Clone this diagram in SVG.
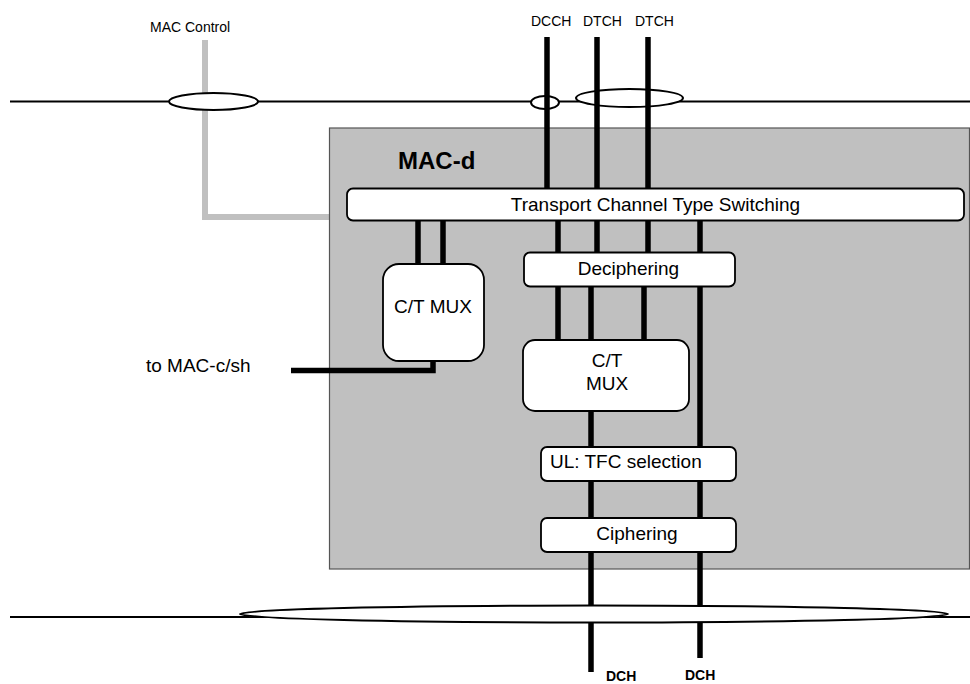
<svg xmlns="http://www.w3.org/2000/svg" width="970" height="684" viewBox="0 0 970 684">
<style>
text{font-family:"Liberation Sans",Arial,sans-serif;fill:#000}
.t{font-size:19px}
.s{font-size:14px}
.b{font-size:14px;font-weight:bold}
.box{fill:#fff;stroke:#000;stroke-width:1.8}
.ell{fill:#fff;stroke:#000;stroke-width:2}
.ch{stroke:#000;stroke-width:5.5;fill:none}
.hl{stroke:#000;stroke-width:2;fill:none}
</style>
<g id="backdrop">
<line class="hl" x1="10" y1="101.5" x2="970" y2="101.5"/>
<polyline points="205,40 205,217 330,217" fill="none" stroke="#c0c0c0" stroke-width="6"/>
<ellipse class="ell" cx="213.5" cy="101.5" rx="44.5" ry="8.5"/>
<ellipse class="ell" cx="545" cy="102.5" rx="14" ry="6.5"/>
<ellipse class="ell" cx="629.5" cy="98" rx="53.5" ry="9"/>
<rect x="329.5" y="128" width="640" height="441" fill="#c0c0c0" stroke="#555" stroke-width="1.2"/>
<line class="hl" x1="10" y1="617" x2="970" y2="617"/>
</g>
<g id="labels">
<text class="s" x="150" y="32">MAC Control</text>
<text class="s" x="531" y="26">DCCH</text>
<text class="s" x="583" y="26">DTCH</text>
<text class="s" x="635" y="26">DTCH</text>
<text x="398" y="169" style="font-size:24px;font-weight:bold">MAC-d</text>
<text class="t" x="146" y="372">to MAC-c/sh</text>
<text class="b" x="606" y="681">DCH</text>
<text class="b" x="685" y="680">DCH</text>
</g>
<g id="connectors">
<line class="ch" x1="547" y1="37" x2="547" y2="190"/>
<line class="ch" x1="597" y1="37" x2="597" y2="254"/>
<line class="ch" x1="648" y1="37" x2="648" y2="254"/>
<line class="ch" x1="418" y1="219" x2="418" y2="266"/>
<line class="ch" x1="443" y1="219" x2="443" y2="266"/>
<line class="ch" x1="558" y1="219" x2="558" y2="342"/>
<line class="ch" x1="700" y1="219" x2="700" y2="658"/>
<line class="ch" x1="591" y1="285" x2="591" y2="672"/>
<line class="ch" x1="644" y1="285" x2="644" y2="342"/>
<polyline class="ch" points="291,370.5 433,370.5 433,359"/>
<ellipse class="ell" cx="594" cy="614" rx="354" ry="8.5"/>
</g>
<g id="transport">
<rect class="box" x="347" y="188.5" width="617" height="32" rx="6"/>
<text class="t" x="655.5" y="211" text-anchor="middle">Transport Channel Type Switching</text>
</g>
<g id="ctmux1">
<rect class="box" x="383" y="264" width="101" height="97" rx="16"/>
<text class="t" x="433" y="313" text-anchor="middle">C/T MUX</text>
</g>
<g id="deciphering">
<rect class="box" x="524" y="252.5" width="211" height="34" rx="6"/>
<text class="t" x="628.5" y="275" text-anchor="middle">Deciphering</text>
</g>
<g id="ctmux2">
<rect class="box" x="523" y="340" width="166" height="71" rx="12"/>
<text class="t" x="607" y="367" text-anchor="middle">C/T</text>
<text class="t" x="607" y="390" text-anchor="middle">MUX</text>
</g>
<g id="tfc">
<rect class="box" x="541" y="447" width="195" height="34" rx="6"/>
<text class="t" x="550" y="468">UL: TFC selection</text>
</g>
<g id="ciphering">
<rect class="box" x="541" y="518" width="195" height="34" rx="6"/>
<text class="t" x="637" y="540" text-anchor="middle">Ciphering</text>
</g>
</svg>
